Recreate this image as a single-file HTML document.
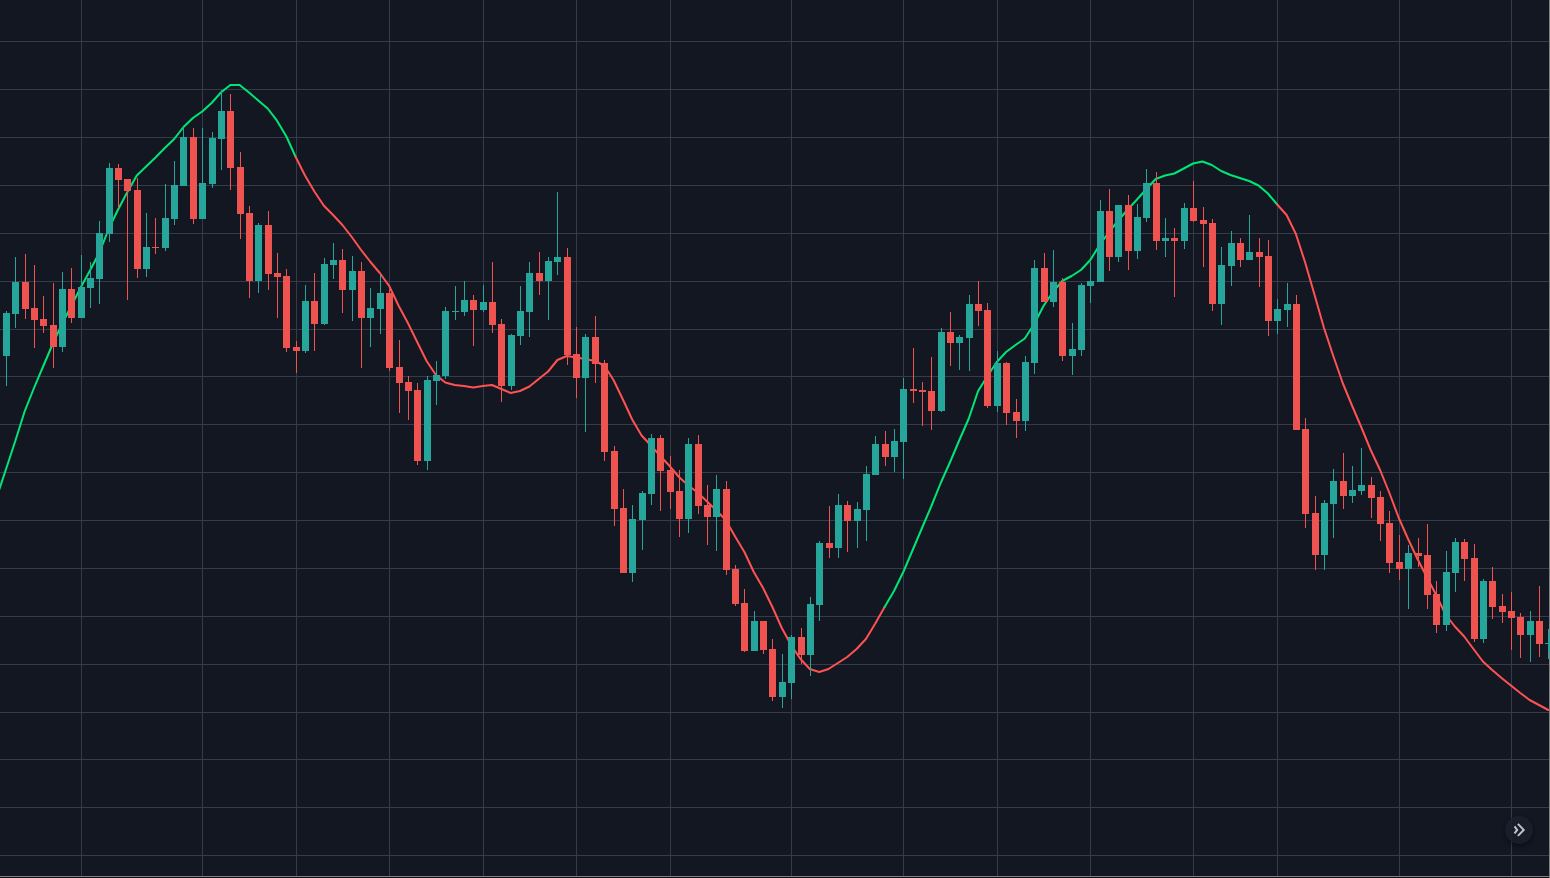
<!DOCTYPE html><html><head><meta charset="utf-8"><title>Chart</title><style>html,body{margin:0;padding:0;background:#131722;overflow:hidden}svg{display:block}body{font-family:"Liberation Sans",sans-serif}</style></head><body>
<svg width="1550" height="878" viewBox="0 0 1550 878">
<defs><filter id="sh" x="-50%" y="-50%" width="200%" height="200%"><feGaussianBlur stdDeviation="2.5"/></filter></defs>
<rect width="1550" height="878" fill="#131722"/>
<g fill="#363a4b" shape-rendering="crispEdges"><rect x="81" y="0" width="1" height="876"/><rect x="202" y="0" width="1" height="876"/><rect x="296" y="0" width="1" height="876"/><rect x="389" y="0" width="1" height="876"/><rect x="483" y="0" width="1" height="876"/><rect x="576" y="0" width="1" height="876"/><rect x="670" y="0" width="1" height="876"/><rect x="791" y="0" width="1" height="876"/><rect x="903" y="0" width="1" height="876"/><rect x="997" y="0" width="1" height="876"/><rect x="1090" y="0" width="1" height="876"/><rect x="1193" y="0" width="1" height="876"/><rect x="1277" y="0" width="1" height="876"/><rect x="1399" y="0" width="1" height="876"/><rect x="1511" y="0" width="1" height="876"/><rect x="0" y="41" width="1549" height="1"/><rect x="0" y="89" width="1549" height="1"/><rect x="0" y="137" width="1549" height="1"/><rect x="0" y="185" width="1549" height="1"/><rect x="0" y="233" width="1549" height="1"/><rect x="0" y="281" width="1549" height="1"/><rect x="0" y="329" width="1549" height="1"/><rect x="0" y="376" width="1549" height="1"/><rect x="0" y="424" width="1549" height="1"/><rect x="0" y="472" width="1549" height="1"/><rect x="0" y="520" width="1549" height="1"/><rect x="0" y="568" width="1549" height="1"/><rect x="0" y="616" width="1549" height="1"/><rect x="0" y="664" width="1549" height="1"/><rect x="0" y="712" width="1549" height="1"/><rect x="0" y="759" width="1549" height="1"/><rect x="0" y="807" width="1549" height="1"/><rect x="0" y="855" width="1549" height="1"/></g>
<polyline fill="none" stroke="#00e676" stroke-width="2" stroke-linejoin="round" stroke-linecap="round" points="-3.4,497.5 5.9,469.5 15.3,441.0 24.6,411.5 34.0,388.0 43.3,366.0 52.7,344.0 62.0,324.0 71.3,306.0 80.7,287.5 90.0,270.5 99.4,252.5 108.7,229.0 118.1,209.5 127.4,192.0 136.8,175.5 146.1,166.5 155.5,157.5 164.8,148.0 174.2,139.0 183.5,127.0 192.9,118.0 202.2,111.5 211.6,103.0 220.9,92.5 230.3,85.0 239.6,85.0 249.0,92.5 258.3,100.5 267.7,108.5 277.0,120.7 286.4,136.5 295.7,157.0"/>
<polyline fill="none" stroke="#ff5252" stroke-width="2" stroke-linejoin="round" stroke-linecap="round" points="295.7,157.0 305.0,175.5 314.4,191.5 323.7,205.5 333.1,215.0 342.4,225.0 351.8,237.0 361.1,250.0 370.5,262.0 379.8,273.0 389.2,286.0 398.5,305.5 407.9,323.0 417.2,342.0 426.6,361.0 435.9,375.0 445.3,382.5 454.6,385.0 464.0,386.0 473.3,387.5 482.7,386.0 492.0,385.0 501.4,389.0 510.7,393.0 520.0,391.0 529.4,386.5 538.7,379.0 548.1,371.5 557.4,360.0 566.8,356.0 576.1,357.5 585.5,359.0 594.8,361.0 604.2,365.5 613.5,380.0 622.9,399.5 632.2,419.5 641.6,435.5 650.9,445.5 660.3,456.0 669.6,466.0 679.0,477.0 688.3,485.5 697.7,492.5 707.0,501.5 716.4,510.5 725.7,520.0 735.1,536.5 744.4,552.0 753.8,572.0 763.1,588.0 772.4,607.0 781.8,628.0 791.1,645.0 800.5,659.0 809.8,669.0 819.2,672.0 828.5,669.0 837.9,663.0 847.2,657.0 856.6,649.0 865.9,639.0 875.3,623.5 884.6,607.0"/>
<polyline fill="none" stroke="#00e676" stroke-width="2" stroke-linejoin="round" stroke-linecap="round" points="884.6,607.0 894.0,591.0 903.3,572.0 912.7,550.0 922.0,528.0 931.4,506.0 940.7,483.0 950.1,462.0 959.4,440.0 968.8,418.5 978.1,391.0 987.5,376.0 996.8,362.0 1006.1,352.0 1015.5,345.0 1024.8,338.5 1034.2,324.0 1043.5,306.0 1052.9,292.0 1062.2,281.0 1071.6,276.0 1080.9,270.0 1090.3,260.0 1099.6,245.0 1109.0,232.0 1118.3,220.5 1127.7,209.5 1137.0,199.5 1146.4,189.0 1155.7,179.0 1165.1,175.5 1174.4,173.5 1183.8,168.5 1193.1,163.5 1202.5,161.5 1211.8,165.0 1221.2,171.0 1230.5,175.0 1239.8,178.0 1249.2,181.0 1258.5,185.5 1267.9,193.5 1277.2,204.5"/>
<polyline fill="none" stroke="#ff5252" stroke-width="2" stroke-linejoin="round" stroke-linecap="round" points="1277.2,204.5 1286.6,215.0 1295.9,234.0 1305.3,263.0 1314.6,295.0 1324.0,328.0 1333.3,356.0 1342.7,383.0 1352.0,405.5 1361.4,427.5 1370.7,450.0 1380.1,470.0 1389.4,493.0 1398.8,518.0 1408.1,539.0 1417.5,559.0 1426.8,577.0 1436.2,595.0 1445.5,614.5 1454.9,626.5 1464.2,636.5 1473.5,649.0 1482.9,661.5 1492.2,670.0 1501.6,678.0 1510.9,685.5 1520.3,693.0 1529.6,700.0 1539.0,705.0 1548.3,710.0"/>
<path fill="#ef5350" shape-rendering="crispEdges" d="M25 254h1v65h-1zM22 282h7v27h-7zM34 265h1v83h-1zM31 308h7v12h-7zM43 296h1v37h-1zM40 319h7v7h-7zM53 283h1v85h-1zM50 325h7v22h-7zM71 268h1v55h-1zM68 289h7v29h-7zM118 164h1v44h-1zM115 168h7v12h-7zM127 179h1v121h-1zM124 179h7v12h-7zM137 178h1v100h-1zM134 190h7v79h-7zM155 218h1v36h-1zM152 247h7v1h-7zM193 128h1v96h-1zM190 137h7v82h-7zM230 94h1v96h-1zM227 111h7v57h-7zM240 152h1v87h-1zM237 167h7v47h-7zM249 206h1v92h-1zM246 213h7v68h-7zM268 211h1v79h-1zM265 225h7v49h-7zM277 253h1v65h-1zM274 273h7v4h-7zM286 269h1v83h-1zM283 276h7v72h-7zM296 341h1v32h-1zM293 347h7v4h-7zM314 273h1v78h-1zM311 301h7v23h-7zM342 249h1v64h-1zM339 260h7v30h-7zM361 262h1v106h-1zM358 271h7v47h-7zM389 289h1v82h-1zM386 293h7v75h-7zM399 340h1v73h-1zM396 367h7v16h-7zM408 376h1v44h-1zM405 382h7v9h-7zM417 383h1v82h-1zM414 390h7v71h-7zM473 295h1v51h-1zM470 300h7v10h-7zM492 262h1v71h-1zM489 302h7v23h-7zM501 319h1v83h-1zM498 324h7v62h-7zM539 252h1v43h-1zM536 273h7v8h-7zM567 248h1v117h-1zM564 257h7v98h-7zM576 327h1v71h-1zM573 354h7v24h-7zM595 316h1v67h-1zM592 337h7v27h-7zM604 360h1v101h-1zM601 363h7v89h-7zM614 446h1v80h-1zM611 451h7v58h-7zM623 489h1v84h-1zM620 508h7v65h-7zM660 435h1v76h-1zM657 438h7v33h-7zM670 456h1v53h-1zM667 470h7v22h-7zM679 470h1v67h-1zM676 491h7v28h-7zM698 435h1v79h-1zM695 444h7v62h-7zM707 485h1v60h-1zM704 505h7v12h-7zM726 481h1v94h-1zM723 489h7v81h-7zM735 565h1v41h-1zM732 569h7v35h-7zM744 589h1v63h-1zM741 603h7v48h-7zM763 621h1v33h-1zM760 621h7v29h-7zM772 639h1v62h-1zM769 649h7v48h-7zM801 628h1v36h-1zM798 637h7v18h-7zM829 506h1v52h-1zM826 543h7v5h-7zM847 501h1v51h-1zM844 505h7v16h-7zM885 431h1v35h-1zM882 444h7v13h-7zM913 348h1v55h-1zM910 389h7v2h-7zM922 382h1v44h-1zM919 390h7v2h-7zM931 357h1v73h-1zM928 391h7v20h-7zM950 312h1v54h-1zM947 332h7v11h-7zM978 281h1v45h-1zM975 304h7v7h-7zM987 303h1v105h-1zM984 310h7v96h-7zM1006 362h1v63h-1zM1003 363h7v50h-7zM1016 399h1v39h-1zM1013 412h7v9h-7zM1044 253h1v49h-1zM1041 268h7v34h-7zM1062 278h1v83h-1zM1059 282h7v74h-7zM1109 189h1v82h-1zM1106 211h7v46h-7zM1128 195h1v75h-1zM1125 205h7v46h-7zM1156 172h1v78h-1zM1153 183h7v58h-7zM1174 228h1v69h-1zM1171 238h7v3h-7zM1193 181h1v41h-1zM1190 208h7v13h-7zM1203 207h1v60h-1zM1200 220h7v4h-7zM1212 219h1v92h-1zM1209 223h7v81h-7zM1240 238h1v29h-1zM1237 243h7v17h-7zM1259 238h1v49h-1zM1256 252h7v5h-7zM1268 240h1v96h-1zM1265 256h7v65h-7zM1296 295h1v135h-1zM1293 304h7v126h-7zM1305 418h1v110h-1zM1302 429h7v85h-7zM1315 496h1v74h-1zM1312 513h7v42h-7zM1343 453h1v56h-1zM1340 481h7v15h-7zM1371 477h1v41h-1zM1368 485h7v13h-7zM1380 491h1v50h-1zM1377 497h7v27h-7zM1389 511h1v62h-1zM1386 523h7v40h-7zM1399 535h1v45h-1zM1396 562h7v7h-7zM1418 538h1v29h-1zM1415 553h7v3h-7zM1427 524h1v85h-1zM1424 555h7v40h-7zM1436 581h1v52h-1zM1433 594h7v31h-7zM1464 539h1v42h-1zM1461 542h7v17h-7zM1474 544h1v98h-1zM1471 558h7v81h-7zM1492 567h1v52h-1zM1489 581h7v26h-7zM1502 594h1v29h-1zM1499 606h7v6h-7zM1511 592h1v58h-1zM1508 611h7v7h-7zM1520 613h1v45h-1zM1517 617h7v18h-7zM1539 586h1v71h-1zM1536 621h7v23h-7z"/>
<path fill="#26a69a" shape-rendering="crispEdges" d="M6 311h1v75h-1zM3 313h7v43h-7zM15 257h1v71h-1zM12 282h7v32h-7zM62 272h1v80h-1zM59 289h7v58h-7zM81 255h1v63h-1zM78 287h7v31h-7zM90 262h1v46h-1zM87 278h7v10h-7zM99 221h1v83h-1zM96 233h7v46h-7zM109 163h1v79h-1zM106 168h7v66h-7zM146 213h1v64h-1zM143 247h7v22h-7zM165 184h1v67h-1zM162 218h7v30h-7zM174 161h1v64h-1zM171 185h7v34h-7zM183 127h1v59h-1zM180 137h7v49h-7zM202 128h1v91h-1zM199 183h7v36h-7zM212 132h1v56h-1zM209 138h7v46h-7zM221 90h1v80h-1zM218 111h7v28h-7zM258 223h1v70h-1zM255 225h7v56h-7zM305 285h1v68h-1zM302 301h7v50h-7zM324 258h1v67h-1zM321 264h7v60h-7zM333 243h1v36h-1zM330 260h7v5h-7zM352 256h1v65h-1zM349 271h7v19h-7zM370 288h1v59h-1zM367 308h7v10h-7zM380 275h1v59h-1zM377 293h7v16h-7zM427 376h1v94h-1zM424 380h7v81h-7zM436 361h1v44h-1zM433 375h7v6h-7zM445 307h1v72h-1zM442 311h7v65h-7zM455 286h1v34h-1zM452 311h7v1h-7zM464 281h1v35h-1zM461 300h7v12h-7zM483 285h1v27h-1zM480 302h7v8h-7zM511 334h1v56h-1zM508 335h7v51h-7zM520 286h1v59h-1zM517 311h7v25h-7zM529 262h1v75h-1zM526 273h7v39h-7zM548 257h1v63h-1zM545 261h7v20h-7zM557 192h1v83h-1zM554 257h7v5h-7zM585 334h1v98h-1zM582 337h7v41h-7zM632 505h1v77h-1zM629 519h7v54h-7zM642 491h1v59h-1zM639 493h7v27h-7zM651 434h1v71h-1zM648 438h7v56h-7zM688 438h1v95h-1zM685 444h7v75h-7zM716 475h1v76h-1zM713 489h7v28h-7zM754 611h1v40h-1zM751 621h7v30h-7zM782 654h1v54h-1zM779 682h7v15h-7zM791 635h1v64h-1zM788 637h7v46h-7zM810 597h1v79h-1zM807 604h7v51h-7zM819 541h1v80h-1zM816 543h7v62h-7zM838 494h1v64h-1zM835 505h7v43h-7zM857 502h1v46h-1zM854 509h7v12h-7zM866 466h1v75h-1zM863 474h7v36h-7zM875 436h1v39h-1zM872 444h7v31h-7zM894 429h1v43h-1zM891 441h7v16h-7zM903 378h1v101h-1zM900 389h7v53h-7zM941 328h1v84h-1zM938 332h7v79h-7zM959 335h1v35h-1zM956 337h7v6h-7zM969 295h1v76h-1zM966 304h7v34h-7zM997 351h1v61h-1zM994 363h7v43h-7zM1025 356h1v75h-1zM1022 362h7v59h-7zM1034 260h1v114h-1zM1031 268h7v95h-7zM1053 250h1v57h-1zM1050 282h7v20h-7zM1072 323h1v52h-1zM1069 349h7v7h-7zM1081 283h1v73h-1zM1078 285h7v65h-7zM1090 262h1v41h-1zM1087 281h7v5h-7zM1100 200h1v82h-1zM1097 211h7v71h-7zM1118 205h1v57h-1zM1115 205h7v52h-7zM1137 204h1v55h-1zM1134 217h7v34h-7zM1146 169h1v53h-1zM1143 183h7v35h-7zM1165 218h1v39h-1zM1162 238h7v3h-7zM1184 203h1v46h-1zM1181 208h7v33h-7zM1221 247h1v78h-1zM1218 265h7v39h-7zM1231 231h1v55h-1zM1228 243h7v23h-7zM1249 215h1v45h-1zM1246 252h7v8h-7zM1277 299h1v35h-1zM1274 309h7v12h-7zM1287 283h1v44h-1zM1284 304h7v6h-7zM1324 500h1v70h-1zM1321 503h7v52h-7zM1333 469h1v69h-1zM1330 481h7v23h-7zM1352 466h1v37h-1zM1349 490h7v6h-7zM1361 448h1v47h-1zM1358 485h7v6h-7zM1408 545h1v64h-1zM1405 553h7v16h-7zM1446 551h1v80h-1zM1443 572h7v53h-7zM1455 538h1v54h-1zM1452 542h7v31h-7zM1483 579h1v64h-1zM1480 581h7v58h-7zM1530 611h1v51h-1zM1527 621h7v14h-7zM1548 629h1v30h-1zM1545 643h7v1h-7z"/>
<circle cx="1519" cy="832" r="14" fill="#000" opacity="0.45" filter="url(#sh)"/>
<circle cx="1519" cy="830" r="13.9" fill="#1f2330" fill-opacity="0.78"/>
<path d="M1514.5 826.4L1517.2 829.9L1514.5 833.4M1517.9 823.9L1523.7 829.9L1517.9 835.9" fill="none" stroke="#c0c3ce" stroke-width="2"/>
<g shape-rendering="crispEdges"><rect x="0" y="876" width="1550" height="1" fill="#808080"/><rect x="0" y="877" width="1550" height="1" fill="#0f121a"/><rect x="1549" y="0" width="1" height="878" fill="#808080"/><rect x="1549" y="634" width="1" height="18" fill="#26a69a"/></g>
</svg></body></html>
